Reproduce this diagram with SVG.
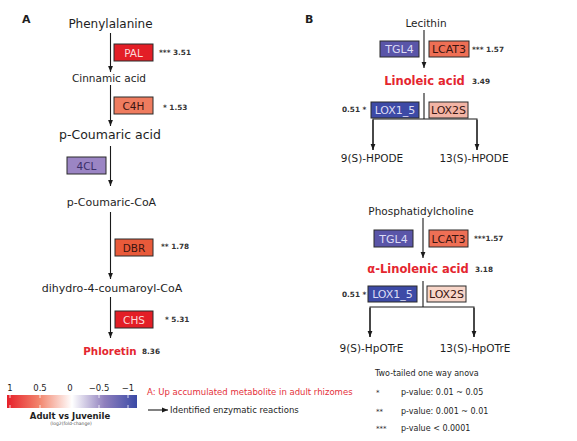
<svg xmlns="http://www.w3.org/2000/svg" width="577" height="441" viewBox="0 0 577 441">
<defs>
<marker id="ah" markerUnits="userSpaceOnUse" markerWidth="6" markerHeight="6" viewBox="0 0 6 6" refX="6" refY="3" orient="auto">
<path d="M0,0.6 L6,3 L0,5.4 Z" fill="#1a1a1a"/>
</marker>
<linearGradient id="grad" x1="0" y1="0" x2="1" y2="0">
<stop offset="0" stop-color="#e6202a"/>
<stop offset="0.25" stop-color="#f2866e"/>
<stop offset="0.5" stop-color="#ffffff"/>
<stop offset="0.75" stop-color="#8f7fbd"/>
<stop offset="1" stop-color="#3a4aa6"/>
</linearGradient>
<style>
text{font-family:"DejaVu Sans","Liberation Sans",sans-serif;fill:#1e1e1e}
.met{font-size:11px}
.red{fill:#e4262f;font-weight:bold}
.box{stroke:#2a2a2a;stroke-width:1}
.bl{font-size:11px;text-anchor:middle}
.ann{font-size:7.3px;font-weight:bold;fill:#333}
.conn line,.conn path{stroke:#1a1a1a;stroke-width:1.1;fill:none}
.panel{font-size:11px;font-weight:bold}
.leg{font-size:8.5px}
</style>
</defs>
<rect width="577" height="441" fill="#ffffff"/>

<text class="panel" x="22" y="23">A</text>
<text class="panel" x="305" y="23">B</text>

<g class="conn">
<line x1="110.5" y1="33" x2="110.5" y2="72" marker-end="url(#ah)"/>
<line x1="110.5" y1="85" x2="110.5" y2="126" marker-end="url(#ah)"/>
<line x1="110.5" y1="146" x2="110.5" y2="186" marker-end="url(#ah)"/>
<line x1="110.5" y1="212" x2="110.5" y2="279" marker-end="url(#ah)"/>
<line x1="110.5" y1="297" x2="110.5" y2="338" marker-end="url(#ah)"/>
<line x1="424" y1="30" x2="424" y2="68" marker-end="url(#ah)"/>
<line x1="424" y1="93" x2="424" y2="119"/>
<path d="M373,150 L373,119 L477,119 L477,150"/>
<line x1="373" y1="120" x2="373" y2="150" marker-end="url(#ah)"/>
<line x1="477" y1="120" x2="477" y2="150" marker-end="url(#ah)"/>
<line x1="423" y1="218" x2="423" y2="258" marker-end="url(#ah)"/>
<line x1="423" y1="281" x2="423" y2="307"/>
<path d="M370,337 L370,307 L474,307 L474,337"/>
<line x1="370" y1="308" x2="370" y2="337" marker-end="url(#ah)"/>
<line x1="474" y1="308" x2="474" y2="337" marker-end="url(#ah)"/>
</g>

<g id="phenylalanine"><text x="110.5" y="27.5" text-anchor="middle" style="font-size:12px">Phenylalanine</text></g>
<g id="pal"><rect class="box" x="114" y="44" width="39" height="17" fill="#e31e26"/><text class="bl" x="133.5" y="56.5" style="fill:#fbd9d9;font-size:10.5px">PAL</text><text class="ann" x="159" y="55">*** 3.51</text></g>
<g id="cinnamic"><text class="met" x="109" y="82" text-anchor="middle" style="font-size:10.5px">Cinnamic acid</text></g>
<g id="c4h"><rect class="box" x="114" y="97" width="39" height="17" fill="#ef7c5f"/><text class="bl" x="133.5" y="109.5" style="fill:#3a1410;font-size:10.5px">C4H</text><text class="ann" x="163" y="110">*  1.53</text></g>
<g id="pcoumaric"><text x="110" y="138.5" text-anchor="middle" style="font-size:12.5px">p-Coumaric acid</text></g>
<g id="c4l"><rect class="box" x="67" y="157" width="39" height="17" fill="#9b85c4"/><text class="bl" x="86.5" y="169.5" style="fill:#3b2f6a;font-size:10.5px">4CL</text></g>
<g id="pcoumaricoa"><text class="met" x="111.5" y="206" text-anchor="middle">p-Coumaric-CoA</text></g>
<g id="dbr"><rect class="box" x="115" y="239" width="38" height="17" fill="#e95a3a"/><text class="bl" x="134" y="251.5" style="fill:#3a1410;font-size:10.5px">DBR</text><text class="ann" x="161" y="249">** 1.78</text></g>
<g id="dihydro"><text class="met" x="112" y="292" text-anchor="middle">dihydro-4-coumaroyl-CoA</text></g>
<g id="chs"><rect class="box" x="115" y="311" width="38" height="17" fill="#e31e26"/><text class="bl" x="134" y="323.5" style="fill:#fbd9d9;font-size:10.5px">CHS</text><text class="ann" x="165" y="322">*  5.31</text></g>
<g id="phloretin"><text class="red" x="110" y="354.5" text-anchor="middle" style="font-size:10.3px">Phloretin</text><text class="ann" x="142" y="354">8.36</text></g>

<g id="lecithin"><text x="426" y="26.5" text-anchor="middle" style="font-size:10.5px">Lecithin</text></g>
<g id="tgl4a"><rect class="box" x="380" y="41" width="39" height="16" fill="#5a55a8"/><text class="bl" x="399.5" y="53" style="fill:#dcdcf5">TGL4</text></g>
<g id="lcat3a"><rect class="box" x="429" y="41" width="40" height="16" fill="#ee6f55"/><text class="bl" x="449" y="53" style="fill:#3a1410">LCAT3</text><text class="ann" x="472" y="52">*** 1.57</text></g>
<g id="linoleic"><text class="red" x="424.5" y="85" text-anchor="middle" style="font-size:11.5px">Linoleic acid</text><text class="ann" x="472" y="84">3.49</text></g>
<g id="lox15a"><rect class="box" x="371" y="102" width="48" height="16" fill="#3d4aa6"/><text class="bl" x="395" y="114" style="fill:#dcdcf5">LOX1_5</text><text class="ann" x="342" y="112">0.51  *</text></g>
<g id="lox2sa"><rect class="box" x="429" y="102" width="39" height="16" fill="#f2b4a5"/><text class="bl" x="448.5" y="114" style="fill:#3a1410">LOX2S</text></g>
<g id="hpode9"><text x="372" y="162" text-anchor="middle" style="font-size:10.5px">9(S)-HPODE</text></g>
<g id="hpode13"><text x="474" y="162" text-anchor="middle" style="font-size:10.5px">13(S)-HPODE</text></g>

<g id="phosphatidylcholine"><text x="421" y="214.5" text-anchor="middle" style="font-size:10.5px">Phosphatidylcholine</text></g>
<g id="tgl4b"><rect class="box" x="374" y="230" width="39" height="17" fill="#5a55a8"/><text class="bl" x="393.5" y="242.5" style="fill:#dcdcf5">TGL4</text></g>
<g id="lcat3b"><rect class="box" x="429" y="230" width="39" height="17" fill="#ee6f55"/><text class="bl" x="448.5" y="242.5" style="fill:#3a1410">LCAT3</text><text class="ann" x="474" y="241">***1.57</text></g>
<g id="linolenic"><text class="red" x="418" y="273" text-anchor="middle" style="font-size:11.5px">α-Linolenic acid</text><text class="ann" x="475" y="272">3.18</text></g>
<g id="lox15b"><rect class="box" x="368" y="286" width="49" height="16" fill="#3d4aa6"/><text class="bl" x="392.5" y="298" style="fill:#dcdcf5">LOX1_5</text><text class="ann" x="342" y="297">0.51 *</text></g>
<g id="lox2sb"><rect class="box" x="427" y="286" width="39" height="16" fill="#f8d6c9"/><text class="bl" x="446.5" y="298" style="fill:#3a1410">LOX2S</text></g>
<g id="hpotre9"><text x="371.5" y="352" text-anchor="middle" style="font-size:10.5px">9(S)-HpOTrE</text></g>
<g id="hpotre13"><text x="475" y="352" text-anchor="middle" style="font-size:10.5px">13(S)-HpOTrE</text></g>

<g id="legend">
<text class="leg" x="10" y="391" text-anchor="middle">1</text>
<text class="leg" x="40" y="391" text-anchor="middle">0.5</text>
<text class="leg" x="70" y="391" text-anchor="middle">0</text>
<text class="leg" x="99" y="391" text-anchor="middle">−0.5</text>
<text class="leg" x="128" y="391" text-anchor="middle">−1</text>
<rect x="7" y="395" width="130" height="13" fill="url(#grad)"/>
<g stroke="#ffffff" stroke-width="0.8">
<line x1="10" y1="395" x2="10" y2="398"/><line x1="10" y1="405" x2="10" y2="408"/>
<line x1="40" y1="395" x2="40" y2="398"/><line x1="40" y1="405" x2="40" y2="408"/>
<line x1="99" y1="395" x2="99" y2="398"/><line x1="99" y1="405" x2="99" y2="408"/>
<line x1="128" y1="395" x2="128" y2="398"/><line x1="128" y1="405" x2="128" y2="408"/>
</g>
<text x="70" y="419" text-anchor="middle" style="font-size:8.5px;font-weight:bold">Adult vs Juvenile</text>
<text x="71" y="425" text-anchor="middle" style="font-size:4.5px;fill:#555">(log2(fold-change)</text>
<text class="leg" x="147" y="395" style="fill:#e4313a">A: Up accumulated metabolite in adult rhizomes</text>
<line x1="148" y1="410" x2="168" y2="410" stroke="#1a1a1a" stroke-width="1.1" marker-end="url(#ah)"/>
<text class="leg" x="170" y="413">Identified enzymatic reactions</text>
<text x="375" y="376" style="font-size:8px">Two-tailed one way anova</text>
<text x="376" y="395" style="font-size:7px">*</text>
<text x="401" y="395" style="font-size:8px">p-value: 0.01 ~ 0.05</text>
<text x="376" y="414" style="font-size:7px">**</text>
<text x="401" y="414" style="font-size:8px">p-value: 0.001 ~ 0.01</text>
<text x="376" y="431" style="font-size:7px">***</text>
<text x="401" y="431" style="font-size:8px">p-value &lt; 0.0001</text>
</g>
</svg>
